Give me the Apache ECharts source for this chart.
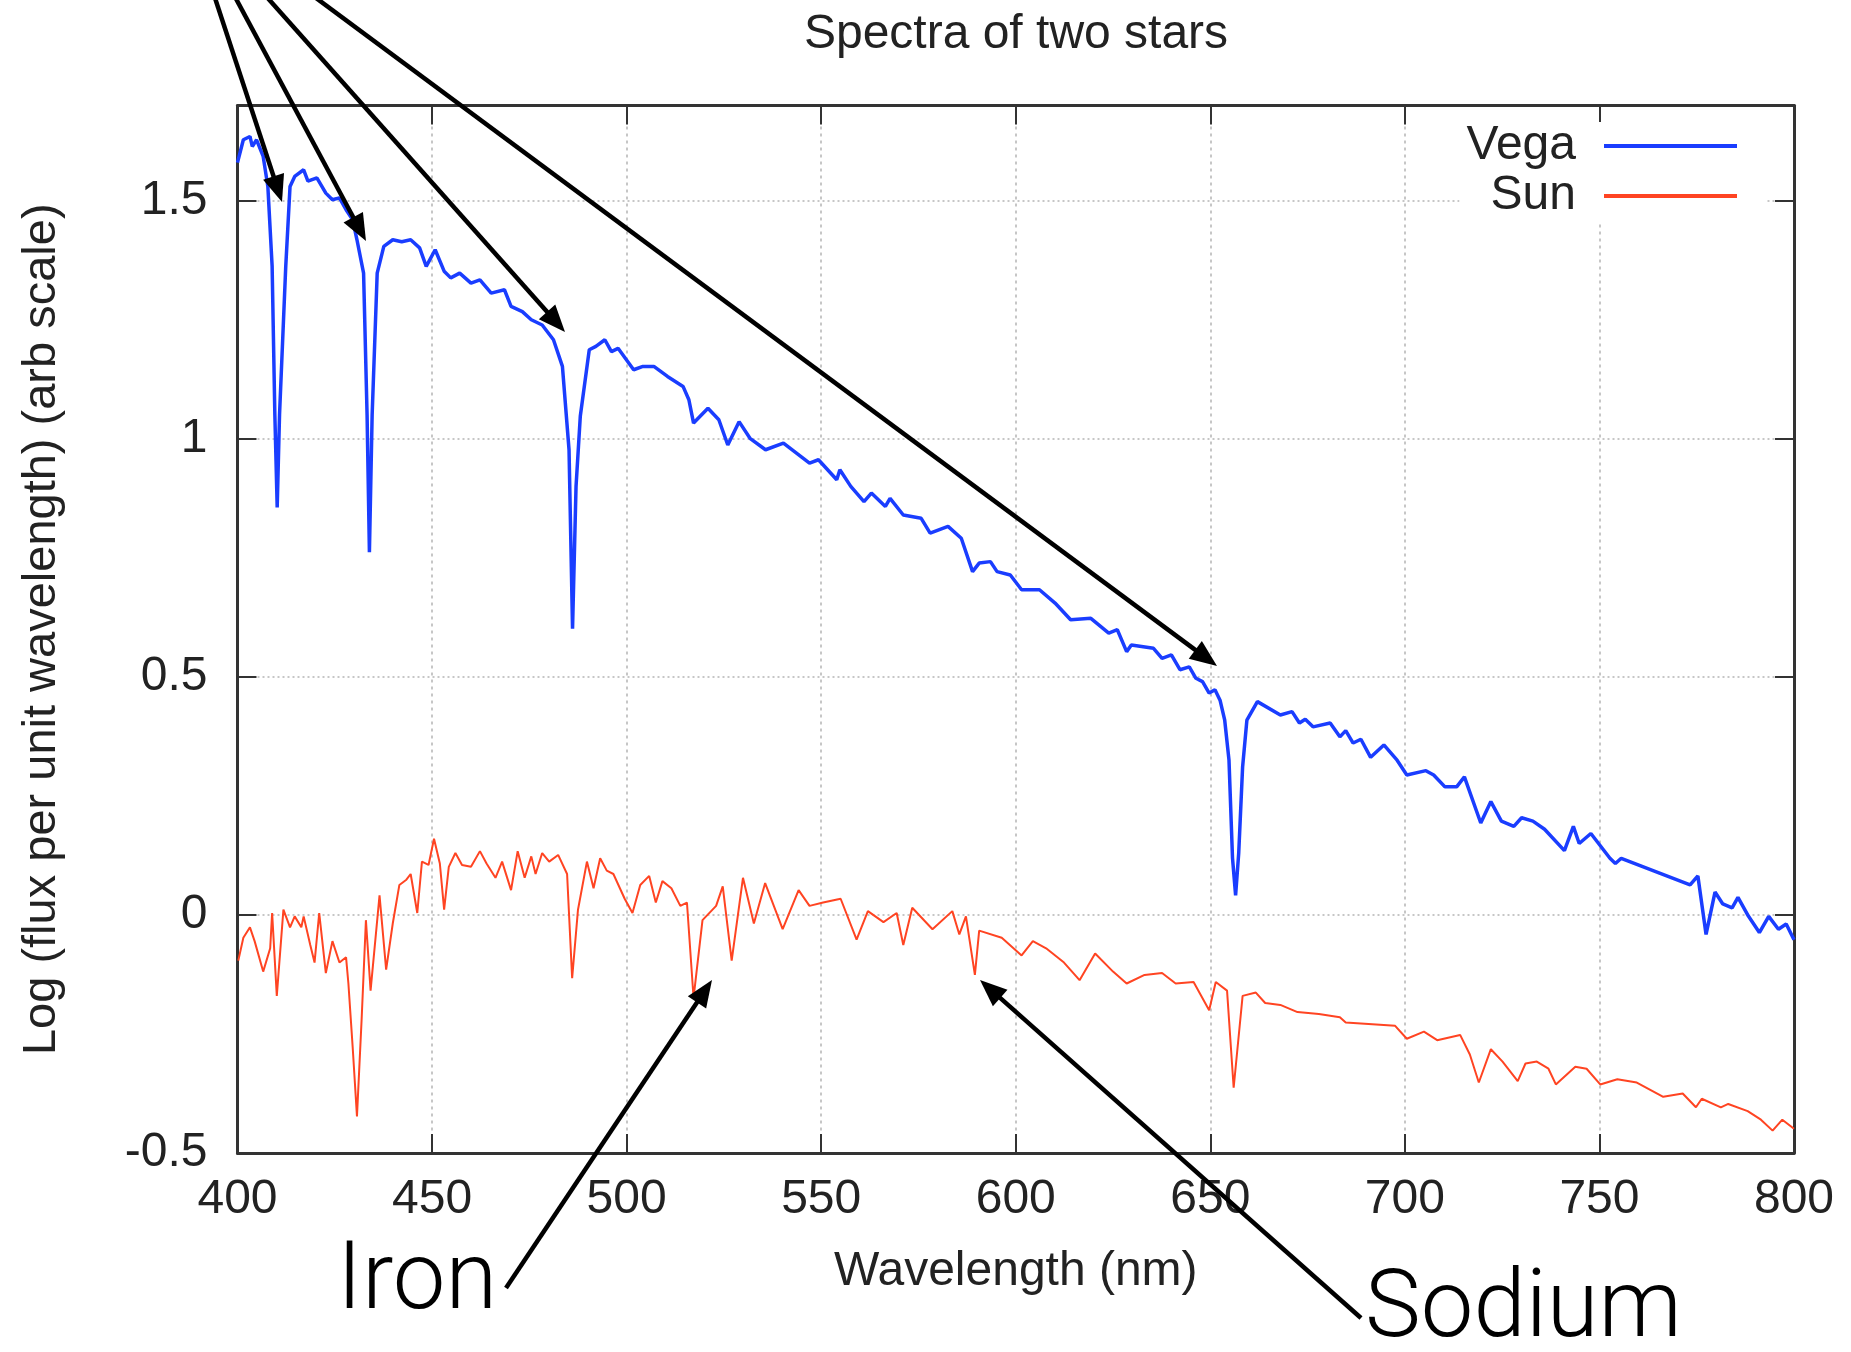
<!DOCTYPE html>
<html>
<head>
<meta charset="utf-8">
<script src="https://cdn.jsdelivr.net/npm/echarts@6/dist/echarts.min.js"></script>
<style>
html,body{margin:0;padding:0;background:#fff;}
#chart{width:1851px;height:1352px;}
</style>
</head>
<body>
<div id="chart"></div>
<script>
// ---------------- DATA ----------------
const chartTitle = 'Spectra of two stars';
const xAxisName = 'Wavelength (nm)';
const yAxisName = 'Log (flux per unit wavelength) (arb scale)';
const seriesNames = ['Vega', 'Sun'];
const xTickMin = 400, xTickMax = 800, xTickStep = 50;
const yTickMin = -0.5, yTickMax = 1.7, yTickStep = 0.5;

const vegaWavelength = [400.0,401.5,403.2,403.8,404.9,406.6,407.8,408.9,409.6,410.2,410.8,412.4,413.5,414.7,417.0,418.1,420.4,422.7,424.4,426.2,427.9,429.6,430.7,432.4,433.3,433.9,434.6,435.9,437.6,439.9,442.2,444.5,446.8,448.5,450.8,453.1,454.8,457.1,460.0,462.3,465.2,468.6,470.3,473.2,475.5,478.3,481.2,483.5,485.2,486.1,487.0,488.1,490.4,492.1,494.4,496.1,497.8,501.8,504.2,507.0,510.5,514.5,516.0,517.2,520.9,523.7,526.0,528.9,531.7,535.7,540.3,547.0,549.3,554.0,554.8,557.6,561.0,562.9,566.5,567.7,571.1,575.7,578.0,582.6,586.0,588.9,590.6,593.5,595.2,598.6,601.5,606.1,610.1,614.1,619.3,623.9,626.1,628.5,629.7,635.4,637.6,640.0,642.2,644.6,646.3,648.0,649.7,651.2,652.5,653.7,654.8,655.7,656.5,657.3,658.3,659.4,662.1,668.0,671.0,672.9,674.4,676.4,680.8,683.3,684.8,686.7,688.7,691.2,694.6,698.0,700.5,705.4,707.4,710.3,713.3,715.3,719.5,722.1,724.8,728.0,730.0,732.9,735.9,741.0,743.3,744.8,747.8,752.7,754.1,755.6,773.3,775.3,777.4,779.7,781.7,784.1,785.6,788.1,791.1,793.5,796.0,798.0,800.0];
const vegaFlux = [1.580,1.628,1.635,1.614,1.628,1.593,1.530,1.362,1.050,0.856,1.050,1.362,1.530,1.551,1.565,1.541,1.548,1.516,1.502,1.506,1.481,1.460,1.418,1.348,1.050,0.762,1.050,1.348,1.404,1.418,1.414,1.418,1.401,1.362,1.397,1.352,1.338,1.348,1.327,1.334,1.306,1.313,1.278,1.267,1.250,1.239,1.208,1.152,0.977,0.601,0.900,1.048,1.187,1.194,1.208,1.183,1.190,1.145,1.152,1.152,1.131,1.110,1.082,1.033,1.064,1.040,0.987,1.036,1.001,0.977,0.991,0.949,0.956,0.914,0.935,0.900,0.868,0.886,0.858,0.875,0.840,0.833,0.802,0.816,0.791,0.721,0.739,0.742,0.721,0.714,0.683,0.683,0.655,0.620,0.623,0.592,0.599,0.553,0.567,0.560,0.539,0.546,0.515,0.521,0.497,0.490,0.466,0.473,0.451,0.409,0.325,0.120,0.041,0.130,0.311,0.409,0.448,0.420,0.427,0.403,0.411,0.395,0.403,0.374,0.387,0.361,0.369,0.331,0.357,0.325,0.294,0.303,0.294,0.269,0.269,0.290,0.193,0.238,0.197,0.186,0.204,0.197,0.180,0.135,0.186,0.150,0.171,0.119,0.108,0.119,0.063,0.082,-0.041,0.048,0.023,0.015,0.037,0.000,-0.037,-0.003,-0.030,-0.019,-0.052];

const sunWavelength = [400.2,401.5,403.2,404.4,406.6,408.4,408.9,410.1,411.8,413.5,414.7,416.4,417.0,418.7,419.8,421.0,422.7,424.4,426.2,427.9,428.5,429.6,430.7,431.9,433.0,434.2,436.5,438.2,439.9,441.6,443.4,444.5,446.2,447.4,449.1,450.5,452.0,453.1,454.3,456.0,457.7,460.0,462.3,464.0,466.3,468.0,470.3,472.0,473.8,475.5,476.6,478.3,480.1,482.4,484.7,486.0,487.5,489.8,491.5,493.2,494.9,496.6,499.5,501.5,503.5,505.8,507.5,509.2,511.5,513.8,515.5,517.2,519.5,523.0,524.7,527.0,529.9,532.7,535.6,540.1,544.2,547.0,550.5,555.0,559.1,562.0,566.0,569.4,571.1,573.4,578.6,583.7,585.5,587.2,589.5,590.6,596.4,601.5,604.4,607.8,612.4,616.4,620.4,625.0,628.5,633.1,637.6,641.1,645.7,649.7,651.4,654.3,656.0,658.3,661.7,664.1,668.0,672.4,677.9,683.3,684.8,697.5,700.5,704.9,708.3,714.2,716.7,719.0,722.1,725.1,729.0,731.0,733.9,736.9,738.8,743.8,746.7,750.2,754.6,759.6,766.4,771.4,774.8,776.3,781.2,783.1,788.1,791.5,794.5,797.0,800.0];
const sunFlux = [-0.096,-0.048,-0.026,-0.055,-0.119,-0.070,0.004,-0.170,0.011,-0.026,-0.003,-0.026,-0.003,-0.063,-0.100,0.004,-0.122,-0.055,-0.100,-0.089,-0.144,-0.278,-0.423,-0.219,-0.011,-0.159,0.041,-0.115,-0.018,0.063,0.074,0.086,0.004,0.112,0.105,0.160,0.108,0.011,0.101,0.130,0.105,0.101,0.134,0.108,0.078,0.112,0.052,0.134,0.078,0.123,0.086,0.130,0.112,0.126,0.086,-0.133,0.011,0.112,0.056,0.119,0.093,0.086,0.034,0.004,0.063,0.082,0.026,0.071,0.056,0.019,0.026,-0.174,-0.011,0.019,0.060,-0.096,0.078,-0.018,0.067,-0.030,0.052,0.019,0.026,0.034,-0.052,0.008,-0.015,0.004,-0.063,0.015,-0.030,0.008,-0.041,-0.003,-0.126,-0.033,-0.048,-0.085,-0.055,-0.070,-0.100,-0.137,-0.081,-0.119,-0.144,-0.126,-0.122,-0.144,-0.141,-0.200,-0.141,-0.159,-0.363,-0.170,-0.163,-0.185,-0.189,-0.204,-0.208,-0.215,-0.226,-0.233,-0.260,-0.245,-0.263,-0.252,-0.293,-0.352,-0.282,-0.308,-0.349,-0.312,-0.308,-0.323,-0.356,-0.319,-0.323,-0.356,-0.345,-0.352,-0.382,-0.375,-0.404,-0.386,-0.404,-0.397,-0.412,-0.430,-0.453,-0.430,-0.449];

const annotationLabels = ['Iron', 'Sodium'];

// ---------------- STYLE / LAYOUT ----------------
const FONT = '"Liberation Sans", Arial, Helvetica, sans-serif';
const ANN_FONT = 'Roboto, "Noto Sans", sans-serif';
const TXT = '#222';
const AX = '#333';
const GRID = {left: 237.5, right: 57, top: 105.5, bottom: 199};

// arrows: [startX, startY, tipX, tipY] in page pixels
const arrowPaths = [
  [214, -5, 282, 202],
  [234, -5, 366, 241],
  [265, -5, 565, 332],
  [312, -5, 1217, 666],
  [506, 1288, 712, 980],
  [1361, 1318, 980, 980]
];
const annotationPos = [[337, 1284], [1365, 1312]];

function pairs(xs, ys) { return xs.map((x, i) => [x, ys[i]]); }

function arrowGraphics() {
  const out = [];
  const headLen = 27, halfW = 11;
  arrowPaths.forEach(([x0, y0, x1, y1]) => {
    const dx = x1 - x0, dy = y1 - y0, L = Math.hypot(dx, dy);
    const ux = dx / L, uy = dy / L;
    const bx = x1 - ux * headLen, by = y1 - uy * headLen;
    const px = -uy, py = ux;
    out.push({type: 'line', z: 100, silent: true,
      shape: {x1: x0, y1: y0, x2: bx + ux * 2, y2: by + uy * 2},
      style: {stroke: '#000', lineWidth: 4.5}});
    out.push({type: 'polygon', z: 100, silent: true,
      shape: {points: [[x1, y1], [bx + px * halfW, by + py * halfW], [bx - px * halfW, by - py * halfW]]},
      style: {fill: '#000'}});
  });
  annotationLabels.forEach((t, i) => {
    out.push({type: 'text', z: 100, silent: true, x: annotationPos[i][0], y: annotationPos[i][1],
      style: {text: t, fontFamily: ANN_FONT, fontWeight: 300, fontSize: 94, fill: '#000', align: 'left', verticalAlign: 'middle'}});
  });
  return out;
}

const axisLineStyle = {show: true, onZero: false, lineStyle: {color: AX, width: 3}};
const tickStyle = {show: true, inside: true, length: 19, lineStyle: {color: AX, width: 2}};

const option = {
  animation: false,
  backgroundColor: '#fff',
  title: {
    text: chartTitle, left: 1016, top: 11, textAlign: 'center', padding: 0,
    textStyle: {fontFamily: FONT, fontSize: 48, fontWeight: 'normal', color: TXT, lineHeight: 48}
  },
  legend: {
    data: seriesNames, orient: 'vertical', right: 86, top: 122, align: 'right',
    itemWidth: 133, itemHeight: 4, itemGap: 2, icon: 'rect', selectedMode: false,
    backgroundColor: '#fff', padding: [0, 28, 4, 7],
    textStyle: {fontFamily: FONT, fontSize: 48, color: TXT, lineHeight: 46, padding: [0, 23, 0, 0]}
  },
  grid: GRID,
  xAxis: [
    {type: 'value', min: xTickMin, max: xTickMax, interval: xTickStep, position: 'bottom',
     name: xAxisName, nameLocation: 'middle', nameGap: 95,
     nameTextStyle: {fontFamily: FONT, fontSize: 48, color: TXT, lineHeight: 48},
     axisLine: axisLineStyle, axisTick: tickStyle,
     axisLabel: {fontFamily: FONT, fontSize: 48, color: TXT, margin: 23},
     splitLine: {show: true, lineStyle: {color: '#b4b4b4', width: 1.5, type: [3, 4]}}},
    {type: 'value', min: xTickMin, max: xTickMax, interval: xTickStep, position: 'top',
     axisLine: axisLineStyle, axisTick: tickStyle, axisLabel: {show: false}, splitLine: {show: false}}
  ],
  yAxis: [
    {type: 'value', min: yTickMin, max: yTickMax, interval: yTickStep, position: 'left',
     name: yAxisName, nameLocation: 'middle', nameGap: 172, nameRotate: 90,
     nameTextStyle: {fontFamily: FONT, fontSize: 47, color: TXT, lineHeight: 47},
     axisLine: axisLineStyle, axisTick: tickStyle,
     axisLabel: {fontFamily: FONT, fontSize: 48, color: TXT, margin: 30, showMaxLabel: false},
     splitLine: {show: true, lineStyle: {color: '#b4b4b4', width: 1.5, type: [2, 3]}}},
    {type: 'value', min: yTickMin, max: yTickMax, interval: yTickStep, position: 'right',
     axisLine: axisLineStyle, axisTick: tickStyle, axisLabel: {show: false}, splitLine: {show: false}}
  ],
  series: [
    {name: seriesNames[0], type: 'line', xAxisIndex: 0, yAxisIndex: 0, showSymbol: false, symbol: 'none',
     color: '#1a3dff', lineStyle: {color: '#1a3dff', width: 3.5}, data: pairs(vegaWavelength, vegaFlux)},
    {name: seriesNames[1], type: 'line', xAxisIndex: 0, yAxisIndex: 0, showSymbol: false, symbol: 'none',
     color: '#ff4422', lineStyle: {color: '#ff4422', width: 2}, data: pairs(sunWavelength, sunFlux)}
  ],
  graphic: arrowGraphics()
};

const chart = echarts.init(document.getElementById('chart'), null, {renderer: 'canvas', width: 1851, height: 1352});
chart.setOption(option);
</script>
</body>
</html>
